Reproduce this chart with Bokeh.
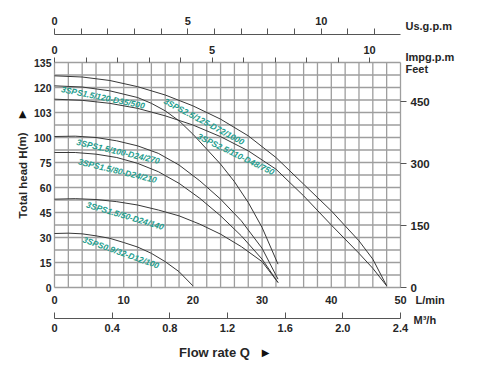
from bokeh.plotting import figure
from bokeh.models import Range1d, LinearAxis, FixedTicker
from bokeh.core.properties import value
from bokeh.embed import file_html
from bokeh.resources import INLINE

# ---------------- data ----------------
# flow rate in L/min, head in m (chart scale)
q_a = [0, 4, 8, 12, 16, 20, 24, 28, 32, 36, 40, 44, 46, 48]
h_a = [127, 126.3, 124.2, 120.5, 115.5, 109, 101, 91, 78, 62, 46, 28, 17, 1]
q_b = [0, 4, 8, 12, 16, 20, 24, 28, 32, 36, 40, 44, 46, 48]
h_b = [113, 112.3, 110.5, 107.5, 103, 97.5, 90.5, 82, 71, 55, 37.5, 20.5, 11.5, 1]
q_c = [0, 4, 8, 12, 14, 16, 18, 20, 24, 26, 28, 30, 32.3]
h_c = [121, 120.3, 118, 114, 110.5, 106, 100, 92, 74, 63.5, 51, 36, 14]
q_d = [0, 3, 6, 9, 12, 15, 18, 21, 24, 27, 30, 32.3]
h_d = [90.6, 90.8, 90, 88, 85, 80.5, 73.5, 64, 53, 40, 23.5, 5]
q_e = [0, 3, 6, 9, 12, 15, 18, 21, 24, 27, 30, 32.3]
h_e = [81, 81, 80, 78, 74.5, 69.5, 62.5, 53.5, 43, 31, 17, 3]
q_f = [0, 3, 6, 9, 12, 15, 18, 21, 24, 27, 30, 32.3]
h_f = [53, 53.3, 52.8, 51.5, 49.5, 46.5, 43, 38, 32, 24.5, 15.5, 3]
q_g = [0, 2, 4, 6, 8, 10, 12, 14, 16, 18, 20]
h_g = [32.4, 32.6, 32.2, 31, 29.5, 27, 24.3, 20.5, 15.5, 9.5, 1]

curve_names = ["3SPS1.5/120-D35/500", "3SPS2.5/125-D72/1000", "3SPS2.5/110-D48/750",
               "3SPS1.5/100-D24/270", "3SPS1.5/80-D24/210", "3SPS1.5/50-D24/140",
               "3SPS0.9/32-D12/100"]

Q_MAX = 50          # L/min at right edge of chart
H_MAX = 135         # m at top edge of chart
head_ticks = [0, 15, 30, 45, 60, 75, 90, 105, 120, 135]
head_labels = ["0", "15", "30", "45", "60", "75", "100", "103", "120", "135"]
lmin_ticks = [0, 10, 20, 30, 40, 50]
m3_max = 2.4
m3_ticks = [0.0, 0.4, 0.8, 1.2, 1.6, 2.0, 2.4]
m3_labels = ["0", "0.4", "0.8", "1.2", "1.6", "2.0", "2.4"]
usg_max = 12.97
usg_ticks = list(range(0, 13))
usg_labelled = [0, 5, 10]
imp_max = 10.98
imp_ticks = list(range(0, 11))
imp_labelled = [0, 5, 10]
feet_max = 544.4
feet_ticks = [0, 150, 300, 450]
grid_q = [i * 2 for i in range(26)]
grid_h = [i * 7.5 for i in range(19)]

# ---------------- layout (pixels) ----------------
W, H = 480, 376
L, R, T, B = 54, 400, 62, 287      # chart box inside the canvas
sx = (R - L) / Q_MAX
sy = (B - T) / H_MAX


def xr(lo, hi):
    s = (R - L) / (hi - lo)
    return Range1d(lo - L / s, hi + (W - R) / s)


def yr(lo, hi):
    s = (B - T) / (hi - lo)
    return Range1d(lo - (H - B) / s, hi + T / s)


def at(px, py):
    return (px - L) / sx, (B - py) / sy


FONT = "Liberation Sans"
TXT = "#262626"
GRID = "#9e9e9e"
TEAL = "#1f9e8e"
CURVE = "#383838"
AXL = "#555555"

p = figure(width=W, height=H, x_range=xr(0, Q_MAX), y_range=yr(0, H_MAX),
           output_backend="svg", toolbar_location=None, title=None,
           x_axis_location=None, y_axis_location=None, min_border=0)
p.outline_line_color = None
p.xgrid.visible = False
p.ygrid.visible = False
p.extra_x_ranges = {"imp": xr(0, imp_max), "usg": xr(0, usg_max), "m3": xr(0, m3_max)}
p.extra_y_ranges = {"ft": yr(0, feet_max)}

# grid lines of the chart box
p.segment(x0=grid_q, x1=grid_q, y0=[0] * len(grid_q), y1=[H_MAX] * len(grid_q),
          line_color=GRID, line_width=1.3)
p.segment(x0=[0] * len(grid_h), x1=[Q_MAX] * len(grid_h), y0=grid_h, y1=grid_h,
          line_color=GRID, line_width=1.3)


def style(ax, size):
    ax.major_label_text_font = FONT
    ax.major_label_text_font_style = "bold"
    ax.major_label_text_font_size = size
    ax.major_label_text_color = TXT
    ax.minor_tick_line_color = None
    ax.major_tick_line_color = AXL
    ax.axis_line_color = AXL
    return ax


# left axis: head in m
yax = style(LinearAxis(fixed_location=0, bounds=(0, H_MAX), ticker=FixedTicker(ticks=head_ticks),
                       major_label_overrides={t: l for t, l in zip(head_ticks, head_labels)}), "10.5px")
yax.axis_line_color = None
yax.major_tick_out = 0
yax.major_tick_in = 0
yax.major_label_standoff = 3
p.add_layout(yax, "left")

# right axis: feet
fax = style(LinearAxis(y_range_name="ft", fixed_location=Q_MAX, bounds=(0, 450),
                       ticker=FixedTicker(ticks=feet_ticks)), "11.5px")
fax.axis_line_color = None
fax.major_tick_out = 6
fax.major_tick_in = 0
fax.major_label_standoff = 4
p.add_layout(fax, "right")

# top axes
iax = style(LinearAxis(x_range_name="imp", fixed_location=H_MAX, bounds=(0, imp_max),
                       ticker=FixedTicker(ticks=imp_ticks),
                       major_label_overrides={t: (str(t) if t in imp_labelled else "") for t in imp_ticks}), "11px")
iax.axis_line_color = None
iax.major_tick_out = 5
iax.major_tick_in = 0
iax.major_label_standoff = 4
p.add_layout(iax, "above")

uax = style(LinearAxis(x_range_name="usg", fixed_location=at(0, 34)[1], bounds=(0, usg_max),
                       ticker=FixedTicker(ticks=usg_ticks),
                       major_label_overrides={t: (str(t) if t in usg_labelled else "") for t in usg_ticks}), "11px")
uax.major_tick_out = 6
uax.major_tick_in = 0
uax.major_label_standoff = 4
p.add_layout(uax, "above")

# bottom axes
lax = style(LinearAxis(fixed_location=0, bounds=(0, Q_MAX), ticker=FixedTicker(ticks=lmin_ticks)), "11px")
lax.axis_line_color = None
lax.major_tick_out = 0
lax.major_tick_in = 0
lax.major_label_standoff = 8
p.add_layout(lax, "below")

max_ = style(LinearAxis(x_range_name="m3", fixed_location=at(0, 318)[1], bounds=(0, m3_max),
                        ticker=FixedTicker(ticks=m3_ticks),
                        major_label_overrides={t: l for t, l in zip(m3_ticks, m3_labels)}), "11px")
max_.major_tick_in = 6
max_.major_tick_out = 0
max_.major_label_standoff = 5
p.add_layout(max_, "below")

# curves
for qs, hs in [(q_a, h_a), (q_b, h_b), (q_c, h_c), (q_d, h_d), (q_e, h_e), (q_f, h_f), (q_g, h_g)]:
    p.line(qs, hs, line_color=CURVE, line_width=1)

# curve labels
p.text(x=[7.0, 21.6, 26.2, 9.2, 9.1, 10.2, 9.6],
       y=[114, 99.6, 80, 81.6, 70, 43, 21],
       angle=[-11.5, -28, -26, -13, -13.5, -16.5, -19.5], angle_units="deg",
       text=curve_names,
       text_font=value(FONT), text_font_size=value("8.5px"), text_font_style="bold italic",
       text_color=TEAL, text_align="center", text_baseline="middle")

# unit labels on the right
units = [("Us.g.p.m", 405, 25), ("Impg.p.m", 405, 56), ("Feet", 405, 68),
         ("L/min", 415, 299), ("M\u00B3/h", 413, 319)]
ux, uy = zip(*[at(px, py) for _, px, py in units])
p.text(x=list(ux), y=list(uy), text=[u[0] for u in units],
       text_font=value(FONT), text_font_size=value("11px"), text_font_style="bold",
       text_color=TXT, text_align="left", text_baseline="middle")

# axis titles
tx, ty = at(22, 175)
p.text(x=[tx], y=[ty], text=["Total head H(m)"], angle=[90], angle_units="deg",
       text_font=value(FONT), text_font_size=value("11.5px"), text_font_style="bold",
       text_color=TXT, text_align="center", text_baseline="middle")
bx, by = at(214, 352)
p.text(x=[bx], y=[by], text=["Flow rate Q"],
       text_font=value(FONT), text_font_size=value("13px"), text_font_style="bold",
       text_color=TXT, text_align="center", text_baseline="middle")
ax1, ay1 = at(22, 113)
ax2, ay2 = at(265, 352)
p.text(x=[ax1, ax2], y=[ay1, ay2], text=["\u25B2", "\u25B6"],
       text_font=value("DejaVu Sans"), text_font_size=value("10px"),
       text_color="#111111", text_align="center", text_baseline="middle")

open("out.html", "w").write(file_html(p, INLINE))
